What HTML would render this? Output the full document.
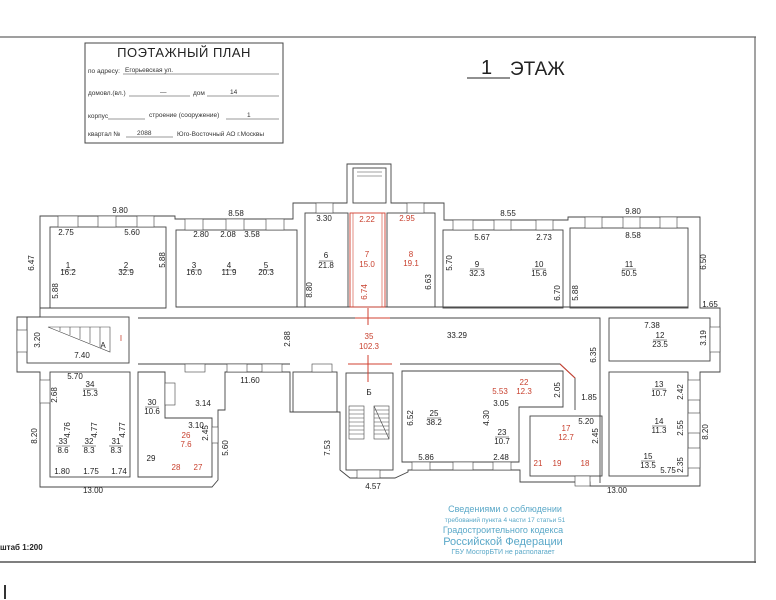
<!DOCTYPE html>
<html><head><meta charset="utf-8"><style>
html,body{margin:0;padding:0;background:#fff;}
svg{display:block;}
text{font-family:"Liberation Sans",sans-serif;}
</style></head><body>
<svg width="776" height="600" viewBox="0 0 776 600" xmlns="http://www.w3.org/2000/svg">
<rect width="776" height="600" fill="#fff"/>
<!-- page frame -->
<line x1="0" y1="37" x2="756" y2="37" stroke="#666" stroke-width="1.2"/>
<line x1="755" y1="37" x2="755" y2="563" stroke="#666" stroke-width="1.2"/>
<line x1="0" y1="562" x2="756" y2="562" stroke="#555" stroke-width="1.4"/>
<rect x="4" y="585" width="2" height="14" fill="#333"/>
<!-- title box -->
<rect x="85" y="43" width="198" height="100" fill="none" stroke="#444" stroke-width="1"/>
<text x="184" y="57" font-size="13" text-anchor="middle" fill="#222" letter-spacing="0.5">ПОЭТАЖНЫЙ ПЛАН</text>
<g font-size="6.5" fill="#333">
<text x="88" y="73">по адресу:</text><text x="125" y="72">Егорьевская ул.</text>
<line x1="123" y1="74" x2="279" y2="74" stroke="#333" stroke-width="0.6"/>
<text x="88" y="95">домовл.(вл.)</text><text x="160" y="94">—</text><text x="193" y="95">дом</text><text x="230" y="94">14</text>
<line x1="129" y1="96" x2="190" y2="96" stroke="#333" stroke-width="0.6"/>
<line x1="207" y1="96" x2="279" y2="96" stroke="#333" stroke-width="0.6"/>
<text x="88" y="118">корпус</text><text x="149" y="117">строение (сооружение)</text><text x="247" y="117">1</text>
<line x1="108" y1="119" x2="145" y2="119" stroke="#333" stroke-width="0.6"/>
<line x1="226" y1="119" x2="279" y2="119" stroke="#333" stroke-width="0.6"/>
<text x="88" y="136">квартал №</text><text x="137" y="135">2088</text><text x="177" y="136">Юго-Восточный АО г.Москвы</text>
<line x1="126" y1="137" x2="173" y2="137" stroke="#333" stroke-width="0.6"/>
</g>
<text x="481" y="74" font-size="20" fill="#222">1</text>
<line x1="467" y1="78" x2="510" y2="78" stroke="#222" stroke-width="1"/>
<text x="510" y="75" font-size="19" fill="#222">ЭТАЖ</text>

<g fill="none" stroke="#444" stroke-width="0.9">
<!-- outer building outline -->
<path d="M40,216 L175,216 L175,219 L293,219 L293,203 L347,203 L347,164 L391,164 L391,203 L444,203 L444,220 L568,220 L568,217 L700,217 L700,308 L720,308 L720,372 L700,372 L700,486 L590,486 L590,482 L520,482 L520,470 L408,470 L408,472 L395,478 L350,478 L340,470 L340,412 L290,412 L290,372 L225,372 L225,410 L218,410 L218,480 L212,487 L40,487 L40,372 L17,372 L17,317 L40,317 Z"/>
<!-- central protrusion inner -->
<rect x="353" y="168" width="33" height="35"/>
<!-- rooms -->
<rect x="50" y="227" width="116" height="81"/>
<rect x="176" y="230" width="121" height="77"/>
<rect x="305" y="213" width="43" height="94"/>
<rect x="387" y="213" width="48" height="94"/>
<rect x="443" y="230" width="120" height="78"/>
<rect x="570" y="228" width="118" height="80"/>
<rect x="609" y="318" width="101" height="43"/>
<rect x="609" y="372" width="79" height="104"/>
<rect x="530" y="416" width="72" height="60"/>
<path d="M402,371 L563,371 L563,407 L519,407 L519,462 L402,462 Z"/>
<rect x="346" y="373" width="47" height="97"/>
<rect x="293" y="372" width="44" height="40"/>
<rect x="27" y="317" width="102" height="46"/>
<rect x="50" y="372" width="80" height="105"/>
<path d="M138,372 L165,372 L165,418 L212,418 L212,477 L138,477 Z"/>
<!-- corridor -->
<path d="M138,318 L600,318 L600,483 M138,364 L290,364 M400,364 L560,364 L575,378 L575,410"/>
<line x1="40" y1="308" x2="166" y2="308"/>
<line x1="176" y1="307" x2="688" y2="307"/>
</g>
<!-- room 7 red -->
<rect x="350" y="213" width="35" height="94" fill="none" stroke="#d04030" stroke-width="0.9"/>
<line x1="353" y1="213" x2="353" y2="307" stroke="#d04030" stroke-width="0.6"/>
<line x1="382" y1="213" x2="382" y2="307" stroke="#d04030" stroke-width="0.6"/>
<line x1="355" y1="318" x2="390" y2="318" stroke="#d04030"/>
<line x1="348" y1="364" x2="392" y2="364" stroke="#d04030"/>
<line x1="368" y1="308" x2="368" y2="325" stroke="#d04030"/>
<line x1="368" y1="355" x2="368" y2="382" stroke="#d04030"/>
<path d="M560,364 L575,378" stroke="#d04030" fill="none"/>
<!-- stairs -->
<g stroke="#444" stroke-width="0.6" fill="none">
<path d="M48,327 L110,327 L110,352 Z"/>
<line x1="60" y1="327" x2="60" y2="331"/><line x1="70" y1="327" x2="70" y2="335"/><line x1="80" y1="327" x2="80" y2="339"/><line x1="90" y1="327" x2="90" y2="343"/><line x1="100" y1="327" x2="100" y2="347"/>
<rect x="349" y="406" width="15" height="33"/><rect x="374" y="406" width="15" height="33"/>
<path d="M349,410h15M349,414h15M349,418h15M349,422h15M349,426h15M349,430h15M349,434h15M374,410h15M374,414h15M374,418h15M374,422h15M374,426h15M374,430h15M374,434h15M374,406L389,439"/>
<path d="M357,168h25M357,172h25M357,176h25"/>
</g>
<!-- windows -->
<g fill="#fff" stroke="#444" stroke-width="0.6">
<rect x="58" y="216" width="20" height="11"/><rect x="98" y="216" width="18" height="11"/><rect x="137" y="216" width="17" height="11"/>
<rect x="185" y="219" width="18" height="11"/><rect x="226" y="219" width="18" height="11"/><rect x="266" y="219" width="18" height="11"/>
<rect x="316" y="203" width="17" height="10"/><rect x="407" y="203" width="17" height="10"/>
<rect x="453" y="220" width="20" height="10"/><rect x="494" y="220" width="17" height="10"/><rect x="536" y="220" width="17" height="10"/>
<rect x="585" y="217" width="17" height="11"/><rect x="623" y="217" width="17" height="11"/><rect x="660" y="217" width="17" height="11"/>
<rect x="710" y="327" width="10" height="25"/>
<rect x="688" y="380" width="12" height="20"/><rect x="688" y="413" width="12" height="20"/><rect x="688" y="448" width="12" height="20"/>
<rect x="575" y="476" width="15" height="10"/>
<rect x="412" y="462" width="18" height="8"/><rect x="453" y="462" width="20" height="8"/><rect x="493" y="462" width="18" height="8"/>
<rect x="357" y="470" width="23" height="8"/>
<rect x="17" y="330" width="10" height="22"/>
<rect x="40" y="380" width="10" height="23"/>
<rect x="165" y="383" width="10" height="22"/>
<rect x="212" y="427" width="6" height="16"/>
<rect x="185" y="364" width="20" height="8"/><rect x="227" y="364" width="20" height="8"/><rect x="262" y="364" width="20" height="8"/><rect x="312" y="364" width="20" height="8"/>
</g>
<!-- labels -->
<g font-size="8" fill="#222" text-anchor="middle">
<text x="120" y="213">9.80</text><text x="236" y="216">8.58</text><text x="508" y="216">8.55</text><text x="633" y="214">9.80</text>
<text x="66" y="235">2.75</text><text x="132" y="235">5.60</text><text x="201" y="237">2.80</text><text x="228" y="237">2.08</text><text x="252" y="237">3.58</text>
<text x="324" y="221">3.30</text><text x="482" y="240">5.67</text><text x="544" y="240">2.73</text><text x="633" y="238">8.58</text>
<text x="68" y="268">1</text><text x="68" y="275">16.2</text><text x="126" y="268">2</text><text x="126" y="275">32.9</text>
<text x="194" y="268">3</text><text x="194" y="275">16.0</text><text x="229" y="268">4</text><text x="229" y="275">11.9</text><text x="266" y="268">5</text><text x="266" y="275">20.3</text>
<text x="326" y="258">6</text><text x="326" y="268">21.8</text>
<text x="477" y="267">9</text><text x="477" y="276">32.3</text><text x="539" y="267">10</text><text x="539" y="276">15.6</text>
<text x="629" y="267">11</text><text x="629" y="276">50.5</text>
<text x="652" y="328">7.38</text><text x="660" y="338">12</text><text x="660" y="347">23.5</text>
<text x="659" y="387">13</text><text x="659" y="396">10.7</text><text x="659" y="424">14</text><text x="659" y="433">11.3</text>
<text x="648" y="459">15</text><text x="648" y="468">13.5</text><text x="668" y="473">5.75</text>
<text x="710" y="307">1.65</text><text x="457" y="338">33.29</text><text x="250" y="383">11.60</text>
<text x="589" y="400">1.85</text><text x="586" y="424">5.20</text>
<text x="82" y="358">7.40</text><text x="103" y="348">A</text>
<text x="75" y="379">5.70</text><text x="90" y="387">34</text><text x="90" y="396">15.3</text>
<text x="63" y="444">33</text><text x="63" y="453">8.6</text><text x="89" y="444">32</text><text x="89" y="453">8.3</text><text x="116" y="444">31</text><text x="116" y="453">8.3</text>
<text x="62" y="474">1.80</text><text x="91" y="474">1.75</text><text x="119" y="474">1.74</text>
<text x="152" y="405">30</text><text x="152" y="414">10.6</text><text x="203" y="406">3.14</text><text x="196" y="428">3.10</text><text x="151" y="461">29</text>
<text x="93" y="493">13.00</text><text x="373" y="489">4.57</text><text x="617" y="493">13.00</text>
<text x="369" y="395">Б</text>
<text x="434" y="416">25</text><text x="434" y="425">38.2</text><text x="502" y="435">23</text><text x="502" y="444">10.7</text>
<text x="501" y="406">3.05</text><text x="426" y="460">5.86</text><text x="501" y="460">2.48</text>
</g>
<g font-size="8" fill="#222" text-anchor="middle">
<text transform="translate(34,263) rotate(-90)">6.47</text>
<text transform="translate(58,291) rotate(-90)">5.88</text>
<text transform="translate(165,260) rotate(-90)">5.88</text>
<text transform="translate(312,290) rotate(-90)">8.80</text>
<text transform="translate(431,282) rotate(-90)">6.63</text>
<text transform="translate(452,263) rotate(-90)">5.70</text>
<text transform="translate(560,293) rotate(-90)">6.70</text>
<text transform="translate(578,293) rotate(-90)">5.88</text>
<text transform="translate(706,262) rotate(-90)">6.50</text>
<text transform="translate(40,340) rotate(-90)">3.20</text>
<text transform="translate(290,339) rotate(-90)">2.88</text>
<text transform="translate(596,355) rotate(-90)">6.35</text>
<text transform="translate(706,338) rotate(-90)">3.19</text>
<text transform="translate(57,395) rotate(-90)">2.68</text>
<text transform="translate(70,430) rotate(-90)">4.76</text>
<text transform="translate(97,430) rotate(-90)">4.77</text>
<text transform="translate(125,430) rotate(-90)">4.77</text>
<text transform="translate(37,436) rotate(-90)">8.20</text>
<text transform="translate(208,433) rotate(-90)">2.45</text>
<text transform="translate(228,448) rotate(-90)">5.60</text>
<text transform="translate(330,448) rotate(-90)">7.53</text>
<text transform="translate(413,418) rotate(-90)">6.52</text>
<text transform="translate(489,418) rotate(-90)">4.30</text>
<text transform="translate(560,390) rotate(-90)">2.05</text>
<text transform="translate(598,436) rotate(-90)">2.45</text>
<text transform="translate(683,392) rotate(-90)">2.42</text>
<text transform="translate(683,428) rotate(-90)">2.55</text>
<text transform="translate(683,465) rotate(-90)">2.35</text>
<text transform="translate(708,432) rotate(-90)">8.20</text>
</g>
<g font-size="8" fill="#c8402e" text-anchor="middle">
<text x="367" y="222">2.22</text><text x="407" y="221">2.95</text>
<text x="367" y="257">7</text><text x="367" y="267">15.0</text><text x="411" y="257">8</text><text x="411" y="266">19.1</text>
<text transform="translate(367,292) rotate(-90)">6.74</text>
<text x="369" y="339">35</text><text x="369" y="349">102.3</text>
<text x="121" y="341">I</text>
<text x="500" y="394">5.53</text><text x="524" y="385">22</text><text x="524" y="394">12.3</text>
<text x="186" y="438">26</text><text x="186" y="447">7.6</text><text x="176" y="470">28</text><text x="198" y="470">27</text>
<text x="566" y="431">17</text><text x="566" y="440">12.7</text>
<text x="538" y="466">21</text><text x="557" y="466">19</text><text x="585" y="466">18</text>
</g>
<!-- fraction bars -->
<g stroke="#222" stroke-width="0.5">
<line x1="61" y1="270" x2="75" y2="270"/><line x1="119" y1="270" x2="133" y2="270"/><line x1="187" y1="270" x2="201" y2="270"/><line x1="222" y1="270" x2="236" y2="270"/><line x1="259" y1="270" x2="273" y2="270"/>
<line x1="319" y1="261" x2="333" y2="261"/><line x1="470" y1="269" x2="484" y2="269"/><line x1="532" y1="269" x2="546" y2="269"/><line x1="622" y1="269" x2="636" y2="269"/>
<line x1="653" y1="340" x2="667" y2="340"/><line x1="652" y1="389" x2="666" y2="389"/><line x1="652" y1="426" x2="666" y2="426"/><line x1="641" y1="461" x2="655" y2="461"/>
<line x1="83" y1="389" x2="97" y2="389"/><line x1="56" y1="446" x2="70" y2="446"/><line x1="82" y1="446" x2="96" y2="446"/><line x1="109" y1="446" x2="123" y2="446"/>
<line x1="145" y1="407" x2="159" y2="407"/><line x1="427" y1="418" x2="441" y2="418"/><line x1="495" y1="437" x2="509" y2="437"/>
</g>
<!-- blue stamp -->
<g fill="#5aa8c8" text-anchor="middle">
<text x="505" y="512" font-size="9">Сведениями о соблюдении</text>
<text x="505" y="522" font-size="6.5">требований пункта 4 части 17 статьи 51</text>
<text x="503" y="533" font-size="9">Градостроительного кодекса</text>
<text x="503" y="545" font-size="11">Российской Федерации</text>
<text x="503" y="554" font-size="7">ГБУ МосгорБТИ не располагает</text>
</g>
<text x="0" y="550" font-size="8" font-weight="bold" fill="#222">штаб 1:200</text>
</svg>
</body></html>
